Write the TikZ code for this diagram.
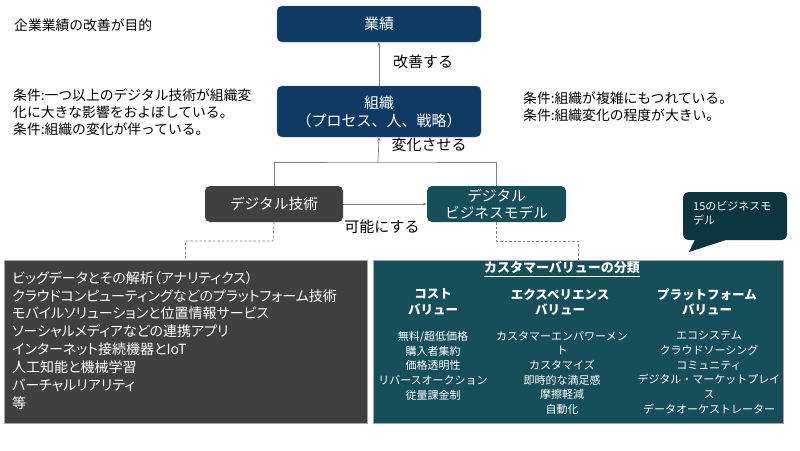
\documentclass[tikz,border=0pt]{standalone}
\usepackage{fontspec}
\setmainfont{Noto Sans CJK JP}
\newfontfamily\pfont[RawFeature=+palt]{Noto Sans CJK JP}
\usetikzlibrary{arrows.meta,calc}
\definecolor{navy}{HTML}{0F3A63}
\definecolor{tealbox}{HTML}{164E5A}
\definecolor{calloutc}{HTML}{0D3540}
\definecolor{darkgray}{HTML}{404040}
\definecolor{linegray}{HTML}{808080}
\newcommand{\fs}[2]{\fontsize{#1}{#2}\selectfont}
\tikzset{
  x=1pt, y=-1pt,
  topbox/.style={draw=navy!70!white, line width=0.4pt, fill=navy, rounded corners=5pt, text=white, align=center, inner sep=0pt, font=\fs{15}{18}},
  midbox/.style={rounded corners=5pt, text=white, align=center, inner sep=0pt, font=\fs{14.7}{17}},
  bigbox/.style={draw=gray!70, line width=0.6pt, inner sep=0pt},
  conn/.style={draw=linegray, line width=0.7pt},
  arr/.style={conn, -{Stealth[length=4pt,width=3pt]}},
  dashconn/.style={draw=linegray, line width=0.7pt, dashed, dash pattern=on 2.5pt off 2pt},
  plain/.style={inner sep=0pt, anchor=west, align=left, font=\fs{13.8}{17}},
  lbl/.style={inner sep=0pt, font=\fs{15}{17}},
  listtxt/.style={inner sep=0pt, anchor=north west, align=left, text=white, font=\pfont\fs{14}{17.9}},
  colhead/.style={inner sep=0pt, align=center, text=white, font=\bfseries\fs{12.5}{15.5}},
  colitem/.style={inner sep=0pt, anchor=north, align=center, text=white, font=\fs{11}{14.7}},
}
\begin{document}
\begin{tikzpicture}
\useasboundingbox (0,0) rectangle (800,450);
% top boxes
\node[topbox, minimum width=204pt, minimum height=36pt] (perf) at (379,24) {業績};
\node[topbox, minimum width=204pt, minimum height=51pt] (org) at (379,111.5) {組織\\（プロセス、人、戦略）};
% middle boxes
\node[midbox, fill=darkgray, minimum width=138pt, minimum height=36pt] (dt) at (274,204) {デジタル技術};
\node[midbox, fill=tealbox, minimum width=139pt, minimum height=36pt] (dbm) at (496.5,204) {デジタル\\ビジネスモデル};
% bottom boxes
\node[bigbox, fill=darkgray, minimum width=363pt, minimum height=163pt] (lb) at (185.5,341.5) {};
\node[bigbox, fill=tealbox, minimum width=410pt, minimum height=163pt] (rb) at (578,341.5) {};
% connectors
\coordinate (j) at (378,162);
\draw[arr] (org.north) -- (perf.south);
\draw[conn] (dt.north) |- (j) -| (dbm.north);
\draw[arr] (j) -- (org.south);
\draw[arr] (dt.east) -- (dbm.west);
\coordinate (dl) at (273,241);
\coordinate (dr) at (496.5,241);
\draw[dashconn] (dt.south) -- (dl) -| (lb.north);
\draw[dashconn] (dbm.south) -- (dr) -| (rb.north);
% labels
\node[lbl] (l1) at (423,62) {改善する};
\node[lbl] (l2) at (429,145) {変化させる};
\node[lbl] (l3) at (382,227) {可能にする};
% side texts
\node[plain] (t0) at (14,25) {企業業績の改善が目的};
\node[plain, anchor=north west] (t1) at (13,89) {条件:一つ以上のデジタル技術が組織変\\化に大きな影響をおよぼしている。\\条件:組織の変化が伴っている。};
\node[plain, anchor=north west] (t2) at (523,92) {条件:組織が複雑にもつれている。\\条件:組織変化の程度が大きい。};
% left list
\node[listtxt] (list) at (12,271) {ビッグデータとその解析（アナリティクス）\\クラウドコンピューティングなどのプラットフォーム技術\\モバイルソリューションと位置情報サービス\\ソーシャルメディアなどの連携アプリ\\インターネット接続機器とIoT\\人工知能と機械学習\\バーチャルリアリティ\\等};
% right box content
\node[inner sep=0pt, text=white, font=\bfseries\fs{13}{16}] (title) at (562,268) {カスタマーバリューの分類};
\draw[white, line width=0.7pt] ([yshift=-1.5pt]title.south west) -- ([yshift=-1.5pt]title.south east);
\node[colhead] (h1) at (433,302) {コスト\\バリュー};
\node[colhead] (h2) at (560,302) {エクスペリエンス\\バリュー};
\node[colhead] (h3) at (707,302) {プラットフォーム\\バリュー};
\node[colitem] (c1) at (433,331) {無料/超低価格\\購入者集約\\価格透明性\\リバースオークション\\従量課金制};
\node[colitem] (c2) at (562,331) {カスタマーエンパワーメン\\ト\\カスタマイズ\\即時的な満足感\\摩擦軽減\\自動化};
\node[colitem] (c3) at (709,331) {エコシステム\\クラウドソーシング\\コミュニティ\\デジタル・マーケットプレイ\\ス\\データオーケストレーター};
% callout
\node[fill=calloutc, rounded corners=6pt, minimum width=104pt, minimum height=48pt, inner sep=0pt] (co) at (735,216) {};
\fill[calloutc] ([xshift=12pt,yshift=0.5pt]co.south west) -- (689,252) -- ([xshift=44pt,yshift=0.5pt]co.south west) -- cycle;
\node[inner sep=0pt, anchor=north west, align=left, text=white, font=\fs{11}{14.5}] (cot) at (693,201) {15のビジネスモ\\デル};
\end{tikzpicture}
\end{document}
